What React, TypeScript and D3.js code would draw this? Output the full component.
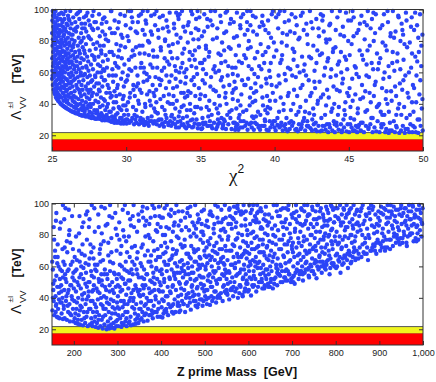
import React, { useEffect, useRef } from "react";
import * as d3 from "d3";

// axis ticks
const chiTicks = [25, 30, 35, 40, 45, 50];
const massTicks = [200, 300, 400, 500, 600, 700, 800, 900, 1000];
const lambdaTicks = [20, 40, 60, 80, 100];

// excluded bands (TeV)
const yellowBand = [17.3, 21.7];
const redBand = [10, 17.3];

// top panel: chi^2 vs Lambda (TeV)
const chiCore = [
  [25.01,56],[25.03,61],[25.02,69],[25.04,77],[25.01,85],[25.03,93],[25.05,99],[25.06,52],[25.07,64],[25.08,73],[25.06,81],[25.09,89],
  [25.07,96],[25.11,49],[25.12,57],[25.1,66],[25.13,70],[25.11,79],[25.14,87],[25.12,92],[25.16,47],[25.17,53],[25.15,60],[25.18,67],
  [25.16,75],[25.19,83],[25.17,97],[25.21,46],[25.22,50],[25.2,58],[25.24,63],[25.23,71],[25.21,78],[25.25,86],[25.22,91],[25.24,99],
  [25.27,44],[25.28,48],[25.3,55],[25.26,61],[25.29,68],[25.31,74],[25.27,82],[25.3,88],[25.32,95],[25.34,43],[25.36,47],[25.33,52],
  [25.37,59],[25.35,65],[25.38,72],[25.34,80],[25.39,85],[25.36,93],[25.41,42],[25.43,46],[25.4,50],[25.44,56],[25.42,63],[25.45,69],
  [25.41,76],[25.46,83],[25.43,90],[25.47,97],[25.48,44],[25.49,60],[25.48,79],
  [25.51,41],[25.53,45],[25.52,53],[25.54,58],[25.5,66],[25.55,71],[25.52,87],[25.56,94],[25.58,40],[25.57,49],[25.6,55],[25.59,62],
  [25.61,68],[25.58,76],[25.62,81],[25.6,90],[25.63,98],[25.65,39.5],[25.64,44],[25.67,51],[25.66,59],[25.68,64],[25.65,73],[25.69,79],
  [25.67,86],[25.7,92],[25.72,39],[25.71,47],[25.74,54],[25.73,61],[25.75,67],[25.72,74],[25.76,83],[25.74,89],[25.77,97],[25.79,38.5],
  [25.78,42],[25.81,50],[25.8,57],[25.82,63],[25.79,70],[25.83,77],[25.81,84],[25.84,94],[25.86,38],[25.85,45],[25.88,52],[25.87,60],
  [25.89,66],[25.86,73],[25.9,80],[25.88,88],[25.91,99],[25.93,37.5],[25.92,43],[25.95,48],[25.94,56],[25.96,64],[25.93,71],[25.97,78],
  [25.95,86],[25.98,91],[25.99,41],[25.99,68],
];

const chiShoulder = [
  [26.01,37],[26.03,42],[26.02,49],[26.05,55],[26.04,62],[26.06,69],[26.03,75],[26.07,82],[26.05,90],[26.08,96],[26.1,36.5],[26.12,40],
  [26.11,46],[26.14,53],[26.13,59],[26.15,66],[26.12,72],[26.16,79],[26.14,85],[26.17,93],[26.19,36],[26.21,44],[26.2,50],[26.23,57],
  [26.22,63],[26.24,70],[26.21,77],[26.25,88],[26.23,99],[26.28,35.5],[26.3,39],[26.29,47],[26.32,54],[26.31,60],[26.33,67],[26.3,74],
  [26.34,81],[26.32,91],[26.37,35],[26.39,42],[26.38,51],[26.41,58],[26.4,65],[26.42,71],[26.39,84],[26.43,95],[26.46,35],[26.48,38],
  [26.47,45],[26.49,62],[26.46,78],[26.48,87],
  [26.51,34.5],[26.53,41],[26.52,48],[26.55,56],[26.54,64],[26.56,73],[26.53,80],[26.57,92],[26.6,34],[26.62,37],[26.61,44],[26.64,52],
  [26.63,60],[26.65,67],[26.62,86],[26.66,97],[26.69,34],[26.71,39],[26.7,50],[26.73,57],[26.72,70],[26.74,77],[26.71,89],[26.78,33.5],
  [26.8,36],[26.79,43],[26.82,54],[26.81,62],[26.83,74],[26.8,82],[26.84,94],[26.87,33],[26.89,40],[26.88,47],[26.91,58],[26.9,66],
  [26.92,79],[26.89,99],[26.95,33],[26.97,37],[26.96,45],[26.99,52],[26.98,69],[26.96,85],[26.99,91],
  [27.02,32.5],[27.04,36],[27.03,42],[27.06,49],[27.05,63],[27.07,76],[27.04,88],[27.1,32.5],[27.12,39],[27.11,55],[27.14,68],[27.13,82],
  [27.15,95],[27.18,33],[27.2,35],[27.19,46],[27.22,59],[27.21,72],[27.23,91],[27.26,32],[27.28,41],[27.27,51],[27.3,64],[27.29,78],
  [27.31,86],[27.34,32],[27.36,37],[27.35,44],[27.38,57],[27.37,70],[27.39,98],[27.42,33],[27.44,39],[27.43,53],[27.46,61],[27.45,83],
  [27.48,47],[27.47,93],
  [27.51,31.5],[27.53,35],[27.52,43],[27.55,58],[27.54,74],[27.56,90],[27.59,31.5],[27.61,38],[27.6,49],[27.63,65],[27.62,81],[27.67,31],
  [27.69,34],[27.68,45],[27.71,55],[27.7,71],[27.72,96],[27.75,32],[27.77,40],[27.76,62],[27.79,78],[27.78,87],[27.83,31],[27.85,36],
  [27.84,51],[27.87,68],[27.86,92],[27.91,30.5],[27.93,42],[27.92,57],[27.95,75],[27.97,34],
];

const chiKnee = [
  [28.02,30.5],[28.05,35],[28.03,46],[28.07,60],[28.04,79],[28.09,88],[28.11,31],[28.14,33],[28.12,41],[28.16,53],[28.13,70],[28.17,97],
  [28.2,30.5],[28.23,38],[28.21,48],[28.25,64],[28.22,83],[28.29,32],[28.32,34],[28.3,44],[28.34,57],[28.31,74],[28.35,91],[28.38,29.5],
  [28.41,39],[28.39,51],[28.43,67],[28.4,86],[28.47,31],[28.5,32],[28.48,43],[28.52,61],[28.49,77],[28.53,95],[28.56,29.5],[28.59,36],
  [28.57,55],[28.61,71],[28.58,84],[28.65,30.5],[28.68,33],[28.66,47],[28.7,63],[28.67,92],[28.74,29.5],[28.77,40],[28.75,52],[28.79,80],
  [28.83,31],[28.86,35],[28.84,58],[28.88,73],[28.92,29],[28.95,44],[28.97,99],
  [29.02,28.5],[29.05,32],[29.03,45],[29.07,62],[29.04,85],[29.11,30],[29.14,37],[29.12,54],[29.16,71],[29.2,28],[29.23,31],[29.21,48],
  [29.25,66],[29.22,93],[29.29,29.5],[29.32,41],[29.3,58],[29.34,78],[29.38,28],[29.41,34],[29.39,50],[29.43,88],[29.47,29],[29.5,38],
  [29.48,63],[29.52,74],[29.56,28],[29.59,31],[29.57,46],[29.61,97],[29.65,27.5],[29.68,36],[29.66,56],[29.7,69],[29.74,29],[29.77,43],
  [29.75,82],[29.83,27.5],[29.86,33],[29.84,51],[29.88,65],[29.92,29.5],[29.95,39],[29.93,76],[29.97,90],
];

const chiMid = [
  [30.03,27.5],[30.08,30],[30.14,33],[30.22,28],[30.31,29],[30.41,31],[30.12,41],[30.27,47],[30.46,38],[30.05,55],[30.35,61],[30.18,68],
  [30.44,74],[30.09,83],[30.29,88],[30.38,95],[30.2,99],[30.48,52],
  [30.53,27],[30.61,30],[30.72,32],[30.86,27],[30.94,29.5],[30.67,36],[30.58,45],[30.81,42],[30.76,58],[30.97,63],[30.55,71],[30.89,77],
  [30.64,86],[30.79,92],[30.99,97],[30.7,51],[30.92,49],
  [31.04,28],[31.13,30],[31.21,26.5],[31.34,28.5],[31.45,31],[31.09,35],[31.27,40],[31.41,46],[31.17,54],[31.38,59],[31.02,66],[31.24,72],
  [31.47,80],[31.11,87],[31.31,93],[31.44,99],[31.19,63],
  [31.52,26],[31.6,29],[31.71,32],[31.83,27.5],[31.92,29],[31.66,39],[31.88,37],[31.57,48],[31.78,52],[31.97,57],[31.63,65],[31.85,70],
  [31.55,79],[31.74,84],[31.95,90],[31.68,96],[31.9,45],
  [32.06,27],[32.15,29.5],[32.24,26],[32.37,30],[32.46,27.5],[32.11,34],[32.3,43],[32.42,38],[32.02,49],[32.21,56],[32.4,61],[32.09,70],
  [32.33,76],[32.18,82],[32.47,88],[32.26,95],[32.04,99],
  [32.54,25.5],[32.63,28.5],[32.72,31],[32.84,26.5],[32.96,29],[32.59,36],[32.8,41],[32.68,50],[32.91,54],[32.56,63],[32.77,67],[32.98,73],
  [32.62,81],[32.86,86],[32.71,93],[32.93,98],[32.88,46],
  [33.03,26],[33.12,28],[33.25,30.5],[33.36,25],[33.47,28.5],[33.08,33],[33.31,37],[33.19,45],[33.42,51],[33.05,58],[33.28,64],[33.45,69],
  [33.14,78],[33.39,84],[33.22,91],[33.49,96],[33.33,56],
  [33.55,25],[33.64,29],[33.73,26.5],[33.82,31],[33.94,25.5],[33.6,35],[33.87,39],[33.7,47],[33.98,53],[33.58,60],[33.79,66],[33.91,75],
  [33.66,82],[33.85,89],[33.53,94],[33.76,99],[33.96,44],
  [34.04,24.5],[34.13,28],[34.22,26],[34.35,29.5],[34.44,25],[34.09,32],[34.3,40],[34.18,48],[34.4,55],[34.06,62],[34.26,68],[34.47,71],
  [34.15,79],[34.37,85],[34.21,92],[34.45,97],[34.33,36],
  [34.53,25.5],[34.61,27.5],[34.74,30],[34.83,24.5],[34.95,27],[34.58,34],[34.79,38],[34.66,45],[34.9,50],[34.55,57],[34.72,63],[34.98,66],
  [34.63,74],[34.87,81],[34.69,88],[34.93,95],[34.81,99],
];

const chiFarA = [
  [35.02,46],[35.06,24],[35.1,83],[35.14,31],[35.18,62],[35.22,27],[35.26,97],[35.3,53],[35.34,28],[35.38,75],[35.42,38],[35.46,26],
  [35.49,89],[35.28,68],[35.12,24.5],
  [35.52,26],[35.56,70],[35.6,42],[35.64,29],[35.68,93],[35.72,57],[35.76,33],[35.8,24.5],[35.84,81],[35.88,49],[35.92,28],[35.96,64],
  [35.99,99],[35.7,26],[35.58,36],
  [36.02,60],[36.06,24],[36.1,37],[36.14,88],[36.18,27],[36.22,72],[36.26,45],[36.3,28],[36.34,96],[36.38,55],[36.42,31],[36.46,79],
  [36.49,24.5],[36.2,34],[36.4,66],
  [36.52,26],[36.56,51],[36.6,85],[36.64,29],[36.68,67],[36.72,24],[36.76,40],[36.8,99],[36.84,58],[36.88,27],[36.92,76],[36.96,35],
  [36.99,91],[36.7,47],[36.58,30],
  [37.02,31],[37.06,94],[37.1,24],[37.14,63],[37.18,43],[37.22,28],[37.26,82],[37.3,54],[37.34,23.5],[37.38,71],[37.42,37],[37.46,98],
  [37.49,27],[37.24,49],[37.4,25.5],
  [37.52,58],[37.56,23.5],[37.6,77],[37.64,33],[37.68,90],[37.72,29],[37.76,46],[37.8,66],[37.84,25],[37.88,97],[37.92,29],[37.96,52],
  [37.99,84],[37.7,39],[37.58,31],
  [38.02,26],[38.06,69],[38.1,36],[38.14,92],[38.18,23.5],[38.22,56],[38.26,80],[38.3,27],[38.34,44],[38.38,99],[38.42,28],[38.46,62],
  [38.49,32],[38.2,75],[38.4,50],
  [38.52,41],[38.56,86],[38.6,23.5],[38.64,59],[38.68,28],[38.72,95],[38.76,48],[38.8,27],[38.84,73],[38.88,35],[38.92,25],[38.96,64],
  [38.99,89],[38.7,53],[38.58,31],
  [39.02,23.5],[39.06,78],[39.1,51],[39.14,26],[39.18,96],[39.22,39],[39.26,26],[39.3,66],[39.34,30],[39.38,87],[39.42,56],[39.46,23.5],
  [39.49,45],[39.2,71],[39.36,29],
  [39.52,34],[39.56,93],[39.6,23],[39.64,61],[39.68,42],[39.72,25],[39.76,82],[39.8,52],[39.84,27],[39.88,99],[39.92,29],[39.96,70],
  [39.99,25],[39.7,37],[39.58,76],
];

const chiFarB = [
  [40.02,29],[40.07,23],[40.13,51],[40.19,26.5],[40.24,88],[40.3,35],[40.33,25],[40.38,66],[40.41,44],[40.45,28],[40.48,79],[40.1,95],
  [40.27,58],[40.36,99],
  [40.51,71],[40.55,23],[40.6,40],[40.63,26],[40.68,92],[40.72,27],[40.75,55],[40.8,31],[40.84,84],[40.87,22.5],[40.9,63],[40.95,47],
  [40.99,28],[40.66,99],
  [41.02,24],[41.06,62],[41.1,36],[41.15,97],[41.18,26],[41.22,75],[41.26,28],[41.31,49],[41.35,85],[41.39,23.5],[41.43,57],[41.46,33],
  [41.49,90],[41.28,68],
  [41.52,45],[41.56,22.5],[41.61,81],[41.64,27],[41.69,60],[41.73,38],[41.77,96],[41.81,25],[41.85,70],[41.88,52],[41.92,29],[41.96,87],
  [41.99,31],[41.75,24],
  [42.02,65],[42.06,23],[42.11,42],[42.14,91],[42.18,26],[42.23,78],[42.27,25.5],[42.3,55],[42.34,34],[42.38,99],[42.42,24.5],[42.46,69],
  [42.49,47],[42.2,29],
  [42.52,23],[42.57,88],[42.6,37],[42.64,27],[42.69,61],[42.73,50],[42.77,28],[42.81,94],[42.85,22.5],[42.88,74],[42.92,42],[42.96,26],
  [42.99,83],[42.66,33],
  [43.03,54],[43.07,22.5],[43.11,97],[43.15,31],[43.19,72],[43.24,26],[43.27,46],[43.31,86],[43.36,26],[43.4,63],[43.44,23.5],[43.47,39],
  [43.49,79],[43.22,93],
  [43.53,27],[43.56,67],[43.61,22],[43.65,44],[43.69,90],[43.73,25],[43.77,57],[43.82,35],[43.86,99],[43.89,23],[43.93,73],[43.97,51],
  [43.99,29],[43.71,81],
  [44.02,40],[44.06,22],[44.1,76],[44.14,58],[44.19,26],[44.23,95],[44.27,33],[44.31,23.5],[44.35,67],[44.39,48],[44.43,84],[44.47,27],
  [44.49,60],[44.17,28],
  [44.52,22],[44.56,53],[44.6,89],[44.64,30],[44.68,25],[44.73,70],[44.77,41],[44.81,98],[44.85,22.5],[44.89,62],[44.92,27],[44.96,80],
  [44.99,45],[44.7,36],
];

const chiFarC = [
  [45.02,22],[45.06,71],[45.11,38],[45.15,93],[45.19,25],[45.23,56],[45.28,23],[45.32,83],[45.36,30],[45.4,64],[45.44,46],[45.48,26],
  [45.25,99],[45.09,27],
  [45.52,59],[45.56,22],[45.6,34],[45.65,87],[45.69,26.5],[45.73,74],[45.77,43],[45.81,23],[45.85,96],[45.89,52],[45.93,28],[45.97,68],
  [45.62,25],
  [46.02,22],[46.07,81],[46.11,48],[46.15,26],[46.2,65],[46.24,36],[46.28,99],[46.32,24],[46.36,57],[46.41,77],[46.45,27],[46.48,41],
  [46.22,90],
  [46.52,31],[46.56,94],[46.6,22],[46.64,62],[46.69,45],[46.73,25],[46.77,85],[46.81,54],[46.85,22.5],[46.9,72],[46.94,29],[46.98,39],
  [46.66,98],
  [47.03,66],[47.07,22],[47.11,88],[47.15,35],[47.2,25],[47.24,50],[47.28,79],[47.33,27],[47.37,97],[47.41,60],[47.45,22],[47.49,43],
  [47.26,33],
  [47.52,24],[47.56,74],[47.6,40],[47.64,92],[47.69,21.5],[47.73,57],[47.77,28],[47.81,83],[47.85,48],[47.89,23],[47.93,66],[47.97,99],
  [47.7,35],
  [48.03,29],[48.07,61],[48.11,22],[48.15,86],[48.19,45],[48.23,25],[48.28,72],[48.32,37],[48.36,95],[48.4,21.5],[48.44,53],[48.48,80],
  [48.2,33],
  [48.52,23],[48.56,91],[48.6,49],[48.64,26],[48.69,68],[48.73,38],[48.77,21.5],[48.81,58],[48.85,98],[48.89,31],[48.93,76],[48.97,24],
  [48.66,84],
  [49.03,44],[49.07,22],[49.11,79],[49.15,27],[49.2,63],[49.24,95],[49.28,22],[49.32,52],[49.36,35],[49.4,87],[49.44,25],[49.48,70],
  [49.26,41],
  [49.52,22],[49.56,58],[49.6,90],[49.64,30],[49.68,21.5],[49.72,73],[49.76,46],[49.8,97],[49.84,26],[49.88,64],[49.92,37],[49.96,84],
  [49.98,23],
];

// extra points filling the gaps of the top cloud
const chiFill = [
  [25.04,58],[25.09,70],[25.13,84],[25.18,95],[25.23,54],[25.27,66],[25.32,89],[25.36,76],[25.41,58],[25.46,73],[25.5,85],[25.55,50],
  [25.6,78],[25.64,56],[25.69,69],[25.73,93],[25.78,47],[25.82,87],[25.87,64],[25.92,81],[25.97,52],[26.02,72],[26.07,45],[26.13,94],
  [26.18,67],[26.24,53],[26.29,84],[26.35,44],[26.41,76],[26.46,55],[26.52,69],[26.58,88],[26.64,40],[26.7,64],[26.76,98],[26.82,49],
  [26.88,72],[26.94,60],[27.0,80],[27.06,38],
  [27.1,58],[27.17,74],[27.24,37],[27.3,96],[27.37,49],[27.44,67],[27.5,82],[27.57,40],[27.63,54],[27.7,88],[27.76,47],[27.83,70],
  [27.9,58],[27.96,92],[28.03,36],[28.1,65],[28.16,49],[28.23,77],[28.3,60],[28.36,33],[28.43,94],[28.5,55],[28.56,42],[28.63,81],
  [28.7,38],[28.76,68],[28.83,50],[28.9,88],[28.96,35],[29.03,73],[29.1,58],[29.16,41],[29.23,85],[29.3,33],[29.36,64],[29.43,52],
  [29.5,92],[29.56,37],[29.63,77],[29.7,31],[29.76,60],[29.83,45],[29.9,96],[29.96,54],[27.33,63],[27.66,31.5],[28.0,53],[28.33,72],
  [28.66,31],[29.0,99],[29.33,45],[29.66,84],[29.99,30],[27.2,88],[27.8,99],[28.45,62],[28.9,47],[29.45,70],[29.8,39],[29.25,29.5],
  [30.04,36],[30.11,58],[30.17,80],[30.24,44],[30.3,29],[30.36,70],[30.43,92],[30.49,49],[30.56,33],[30.62,63],[30.68,28],[30.74,85],
  [30.8,53],[30.86,40],[30.91,72],[30.97,31],[30.33,99],[30.66,76],[30.21,62],[30.85,96],
  [31.03,47],[31.1,77],[31.16,29],[31.22,60],[31.29,38],[31.35,91],[31.41,55],[31.47,27],[31.53,71],[31.59,42],[31.66,86],[31.72,29],
  [31.78,63],[31.84,47],[31.9,97],[31.96,35],[31.25,84],[31.56,57],[31.12,99],[31.81,74],
  [32.03,41],[32.09,63],[32.15,87],[32.22,30],[32.28,52],[32.34,74],[32.4,27],[32.47,96],[32.53,45],[32.59,69],[32.65,33],[32.71,58],
  [32.77,89],[32.84,28],[32.9,65],[32.96,40],[32.37,55],[32.62,80],[32.12,34],[32.87,77],
  [33.04,32],[33.1,69],[33.16,50],[33.23,88],[33.29,27],[33.35,61],[33.41,42],[33.48,79],[33.54,32],[33.6,97],[33.66,54],[33.73,38],
  [33.79,72],[33.85,27],[33.91,60],[33.97,86],[33.37,98],[33.69,63],[33.15,40],[33.88,47],
  [34.03,57],[34.09,36],[34.15,90],[34.22,26],[34.28,73],[34.34,47],[34.4,64],[34.47,30],[34.53,81],[34.59,52],[34.65,38],[34.71,94],
  [34.78,59],[34.84,27],[34.9,76],[34.96,43],[34.37,99],[34.62,68],[34.12,45],[34.87,87],
  [35.04,37],[35.11,66],[35.18,28],[35.25,86],[35.32,45],[35.39,59],[35.46,94],[35.53,32],[35.6,73],[35.67,51],[35.74,26],[35.81,90],
  [35.88,62],[35.95,40],[35.37,77],[35.7,99],[35.15,55],
  [36.04,48],[36.11,82],[36.18,30],[36.25,61],[36.32,39],[36.39,92],[36.46,57],[36.53,27],[36.6,74],[36.67,44],[36.74,86],[36.81,33],
  [36.88,64],[36.95,52],[36.37,71],[36.7,98],[36.14,25.5],
  [37.04,75],[37.11,36],[37.18,59],[37.25,92],[37.32,28],[37.39,50],[37.46,83],[37.53,42],[37.6,67],[37.67,25],[37.74,95],[37.81,55],
  [37.88,35],[37.95,71],[37.37,63],[37.7,88],[37.15,47],
  [38.04,52],[38.11,28],[38.18,87],[38.25,64],[38.32,39],[38.39,76],[38.46,25],[38.53,96],[38.6,47],[38.67,69],[38.74,32],[38.81,84],
  [38.88,57],[38.95,26],[38.37,90],[38.7,42],[38.15,99],
  [39.04,33],[39.11,62],[39.18,44],[39.25,90],[39.32,26],[39.39,73],[39.46,53],[39.53,38],[39.6,85],[39.67,29],[39.74,66],[39.81,97],
  [39.88,47],[39.95,79],[39.37,36],[39.7,57],[39.15,92],
  [40.05,42],[40.12,74],[40.19,31],[40.26,97],[40.33,53],[40.4,26],[40.47,68],[40.54,85],[40.61,36],[40.68,59],[40.75,24],[40.82,77],
  [40.89,45],[40.96,93],
  [41.05,86],[41.12,29],[41.19,58],[41.26,40],[41.33,73],[41.4,95],[41.47,24],[41.54,64],[41.61,35],[41.68,82],[41.75,50],[41.82,27],
  [41.89,98],[41.96,61],
  [42.05,35],[42.12,58],[42.19,84],[42.26,26],[42.33,70],[42.4,45],[42.47,92],[42.54,30],[42.61,77],[42.68,54],[42.75,23.5],[42.82,66],
  [42.89,40],[42.96,88],
  [43.05,71],[43.12,44],[43.19,23],[43.26,96],[43.33,58],[43.4,33],[43.47,81],[43.54,49],[43.61,69],[43.68,27],[43.75,91],[43.82,62],
  [43.89,37],[43.96,75],
  [44.05,27],[44.12,87],[44.19,49],[44.26,65],[44.33,38],[44.4,99],[44.47,73],[44.54,23],[44.61,56],[44.68,83],[44.75,33],[44.82,68],
  [44.89,47],[44.96,93],
  [45.05,50],[45.12,31],[45.19,78],[45.26,42],[45.33,95],[45.4,23],[45.47,63],[45.54,85],[45.61,37],[45.68,57],[45.75,91],[45.82,28],
  [45.89,71],[45.96,44],
  [46.05,92],[46.12,35],[46.19,58],[46.26,74],[46.33,25],[46.4,47],[46.47,88],[46.54,66],[46.61,31],[46.68,80],[46.75,52],[46.82,97],
  [46.89,38],[46.96,62],
  [47.05,40],[47.12,69],[47.19,27],[47.26,90],[47.33,56],[47.4,33],[47.47,77],[47.54,48],[47.61,99],[47.68,64],[47.75,23],[47.82,85],
  [47.89,42],[47.96,73],
  [48.05,82],[48.12,51],[48.19,26],[48.26,67],[48.33,96],[48.4,40],[48.47,62],[48.54,33],[48.61,87],[48.68,55],[48.75,78],[48.82,24],
  [48.89,93],[48.96,47],
  [49.05,60],[49.12,33],[49.19,89],[49.26,72],[49.33,26],[49.4,50],[49.47,98],[49.54,41],[49.61,67],[49.68,82],[49.75,30],[49.82,55],
  [49.89,77],[49.96,43],
];

// bottom panel: Z' mass (GeV) vs Lambda (TeV)
const massLow = [
  [151,32],[153,45],[152,58],[154,38],[156,51],[155,29],[157,66],[158,41],[159,35],[160,54],[161,28],[162,47],[163,74],[164,33],[165,60],
  [166,43],[167,27],[168,52],[169,37],[170,88],[171,48],[172,30],[173,57],[174,40],[175,26.5],[176,63],[177,35],[178,45],[179,27],[180,55],
  [181,97],[182,38],[183,50],[184,26],[185,69],[186,43],[187,31],[188,58],[189,80],[190,36],[191,25],[192,48],[193,61],[194,29],[195,41],
  [196,92],[197,53],[198,33],[199,25],[200,46],
  [155,77],[168,84],[184,76],[198,71],[160,94],[175,99],[190,83],[179,72],
  [201,38],[202,27],[203,57],[204,24],[205,44],[206,33],[207,64],[208,50],[209,23.5],[210,40],[211,29],[212,70],[213,53],[214,23],[215,35],
  [216,46],[217,60],[218,26],[219,85],[220,39],[221,22.5],[222,52],[223,31],[224,43],[225,67],[226,24],[227,36],[228,56],[229,28],[230,47],
  [231,95],[232,22],[233,41],[234,61],[235,33],[236,50],[237,23],[238,74],[239,38],[240,27],[241,54],[242,44],[243,22],[244,31],[245,65],
  [246,48],[247,25],[248,36],[249,58],[250,21.5],
  [205,79],[213,92],[222,88],[230,77],[241,99],[248,82],[218,68],[236,90],
  [251,34],[252,46],[253,24],[254,61],[255,39],[256,21],[257,52],[258,29],[259,43],[260,71],[261,22],[262,36],[263,55],[264,26],[265,48],
  [266,20.5],[267,64],[268,33],[269,41],[270,23],[271,58],[272,29],[273,86],[274,45],[275,20],[276,37],[277,52],[278,25],[279,67],[280,31],
  [281,20.5],[282,44],[283,57],[284,27],[285,39],[286,78],[287,21],[288,50],[289,34],[290,62],[291,24],[292,43],[293,20.5],[294,55],[295,30],
  [296,47],[297,22],[298,70],[299,37],[300,26],
  [256,93],[264,81],[271,97],[279,75],[288,91],[296,84],[262,74],[283,99],
];

const massRise = [
  [301,41],[302,22],[303,55],[304,33],[305,47],[306,27],[307,68],[308,38],[309,21.5],[310,60],[311,45],[312,29],[313,52],[314,23],[315,79],
  [316,36],[317,49],[318,25],[319,63],[320,42],[321,22],[322,57],[323,31],[324,94],[325,46],[326,24],[327,38],[328,66],[329,51],[330,28],
  [331,22.5],[332,43],[333,72],[334,34],[335,55],[336,23],[337,40],[338,85],[339,61],[340,30],[341,48],[342,23.5],[343,36],[344,58],[345,27],
  [346,69],[347,44],[348,24],[349,53],[350,33],
  [304,88],[312,96],[320,76],[329,90],[337,99],[345,82],[348,93],[309,73],
  [351,45],[352,26],[353,62],[354,37],[355,27],[356,53],[357,31],[358,74],[359,42],[360,25],[361,58],[362,35],[363,67],[364,48],[365,30],
  [366,89],[367,40],[368,55],[369,25.5],[370,33],[371,63],[372,46],[373,29],[374,78],[375,51],[376,29],[377,38],[378,60],[379,44],[380,99],
  [381,27],[382,56],[383,35],[384,70],[385,49],[386,31],[387,41],[388,83],[389,59],[390,31],[391,52],[392,28],[393,66],[394,45],[395,37],
  [396,92],[397,57],[398,28],[399,48],[400,73],
  [356,95],[363,86],[371,80],[384,97],[392,87],[358,98],[376,91],[399,85],
  [401,34],[402,55],[403,27.5],[404,44],[405,68],[406,38],[407,50],[408,32],[409,80],[410,61],[411,41],[412,31],[413,57],[414,72],[415,47],
  [416,29],[417,36],[418,93],[419,64],[420,52],[421,34],[422,43],[423,76],[424,58],[425,35],[426,67],[427,48],[428,30],[429,86],[430,54],
  [431,39],[432,62],[433,31],[434,45],[435,99],[436,70],[437,56],[438,35],[439,41],[440,78],[441,50],[442,35],[443,63],[444,32],[445,89],
  [446,46],[447,59],[448,38],[449,72],[450,53],
  [404,91],[412,85],[423,96],[431,88],[440,95],[447,83],[408,97],[427,82],
  [451,36],[452,61],[453,45],[454,77],[455,31],[456,55],[457,40],[458,68],[459,50],[460,94],[461,35],[462,59],[463,43],[464,83],[465,66],
  [466,37],[467,52],[468,32.5],[469,73],[470,47],[471,60],[472,88],[473,41],[474,56],[475,38],[476,69],[477,51],[478,99],[479,38],[480,63],
  [481,79],[482,46],[483,34],[484,58],[485,71],[486,42],[487,90],[488,54],[489,39],[490,65],[491,49],[492,82],[493,39],[494,61],[495,35],
  [496,75],[497,53],[498,96],[499,44],[500,67],
  [455,91],[461,97],[476,86],[484,93],[493,87],[497,80],[467,98],[480,84],
  [501,41],[502,58],[503,45],[504,72],[505,36],[506,62],[507,51],[508,85],[509,40],[510,67],[511,55],[512,35.5],[513,78],[514,47],[515,93],
  [516,60],[517,38],[518,70],[519,53],[520,40],[521,81],[522,44],[523,64],[524,99],[525,57],[526,37],[527,75],[528,49],[529,68],[530,41],
  [531,88],[532,59],[533,42],[534,71],[535,52],[536,63],[537,43],[538,96],[539,77],[540,55],[541,38],[542,66],[543,84],[544,48],[545,61],
  [546,44],[547,73],[548,91],[549,56],[550,45],
  [505,89],[513,95],[522,87],[530,98],[537,83],[546,99],[518,92],[542,90],
  [551,43],[552,64],[553,49],[554,79],[555,57],[556,39],[557,70],[558,92],[559,45],[560,61],[561,46],[562,84],[563,53],[564,74],[565,41],
  [566,66],[567,98],[568,50],[569,59],[570,44],[571,77],[572,88],[573,46],[574,68],[575,55],[576,40],[577,81],[578,63],[579,95],[580,48],
  [581,72],[582,47],[583,58],[584,86],[585,67],[586,42],[587,52],[588,76],[589,99],[590,61],[591,44],[592,70],[593,90],[594,55],[595,49],
  [596,65],[597,83],[598,49],[599,73],[600,60],
  [556,96],[563,91],[575,97],[583,93],[594,95],[560,87],[571,94],[588,94],
];

const massHigh = [
  [601,45],[602,68],[603,53],[604,87],[605,61],[606,41.5],[607,75],[608,96],[609,48],[610,64],[611,82],[612,57],[613,48],[614,71],[615,92],
  [616,52],[617,66],[618,44],[619,79],[620,99],[621,59],[622,47],[623,73],[624,88],[625,63],[626,50],[627,55],[628,84],[629,69],[630,95],
  [631,50],[632,46],[633,77],[634,61],[635,90],[636,46],[637,67],[638,81],[639,54],[640,98],[641,52],[642,72],[643,58],[644,86],[645,49],
  [646,64],[647,93],[648,76],[649,47],[650,60],
  [605,94],[618,90],[628,97],[640,89],[611,99],[623,95],
  [651,50],[652,70],[653,57],[654,91],[655,63],[656,46],[657,80],[658,99],[659,52],[660,68],[661,86],[662,53],[663,74],[664,59],[665,95],
  [666,48],[667,65],[668,83],[669,55],[670,55],[671,77],[672,92],[673,61],[674,50],[675,71],[676,88],[677,57],[678,50],[679,97],[680,67],
  [681,80],[682,53],[683,74],[684,57],[685,62],[686,90],[687,58],[688,84],[689,51],[690,69],[691,96],[692,76],[693,55],[694,55],[695,87],
  [696,64],[697,78],[698,52],[699,93],[700,71],
  [701,53],[702,75],[703,60],[704,94],[705,66],[706,49],[707,84],[708,56],[709,99],[710,72],[711,57],[712,88],[713,62],[714,78],[715,52],
  [716,92],[717,68],[718,57],[719,82],[720,56],[721,97],[722,73],[723,60],[724,86],[725,51],[726,66],[727,79],[728,95],[729,56],[730,70],
  [731,58],[732,89],[733,63],[734,77],[735,99],[736,58],[737,84],[738,54],[739,69],[740,93],[741,74],[742,61],[743,87],[744,60],[745,80],
  [746,65],[747,96],[748,57],[749,72],[750,90],
  [751,55],[752,78],[753,64],[754,95],[755,70],[756,52.5],[757,87],[758,60],[759,99],[760,75],[761,59],[762,91],[763,67],[764,82],[765,63],
  [766,97],[767,72],[768,56],[769,85],[770,63],[771,93],[772,77],[773,61],[774,89],[775,68],[776,81],[777,58],[778,98],[779,61],[780,74],
  [781,86],[782,64],[783,94],[784,70],[785,80],[786,55],[787,90],[788,65],[789,99],[790,76],[791,62],[792,84],[793,71],[794,96],[795,62],
  [796,88],[797,60],[798,79],[799,92],[800,67],
  [801,59],[802,82],[803,68],[804,97],[805,74],[806,64],[807,90],[808,63],[809,79],[810,99],[811,56],[812,86],[813,71],[814,93],[815,61],
  [816,77],[817,88],[818,62],[819,96],[820,67],[821,83],[822,66],[823,91],[824,73],[825,99],[826,64],[827,85],[828,59],[829,78],[830,94],
  [831,69],[832,88],[833,67],[834,80],[835,97],[836,63],[837,75],[838,90],[839,66],[840,84],[841,99],[842,72],[843,70],[844,93],[845,79],
  [846,65],[847,87],[848,70],[849,96],[850,82],
];

const massEdge = [
  [852,65],[854,86],[855,72],[857,95],[859,66],[861,80],[862,99],[864,69],[866,89],[867,75],[869,93],[871,68],[872,84],[874,64],[876,97],
  [877,78],[879,90],[881,70],[883,86],[884,72],[886,98],[888,81],[889,73],[891,93],[893,68],[894,87],[896,77],[898,95],[899,75],
  [901,89],[903,74],[904,98],[906,72],[908,84],[909,93],[911,79],[913,70],[914,96],[916,87],[918,72],[919,99],[921,82],[923,77],[924,91],
  [926,77],[928,95],[929,86],[931,73],[933,98],[934,81],[936,92],[938,75],[940,88],[941,78],[943,96],[945,83],[946,93],[948,78],[950,99],
  [951,87],[953,75],[955,94],[957,80],[958,97],[960,89],[962,75],[964,92],[966,84],[968,99],[970,80],[972,90],[973,95],[975,81],[977,98],
  [979,87],[981,93],[983,78],[985,96],[987,86],[989,91],[991,99],[993,83],[995,94],[997,88],[999,97],[963,73],[985,76],
];

// extra points filling the gaps of the bottom cloud
const massFill = [
  [158.5,31],[166,39],[153,49],[171.5,44],[162,62],[177,33],[185.5,57],[191,30],[196.5,39],[174,71],[181,52],[164,27.5],[169,58],[157,70],
  [188,45],[199,56],[203.5,30],[211,48],[207,37],[216.5,55],[224,27],[229.5,39],[233.5,50],[238,33],[244.5,45],[248.5,61],[213.5,63],
  [219,42],[226.5,49],[236,65],[241.5,24],[246,53],[202,66],[209.5,26],[218,34],[231,31],[239.5,57],[249,28],[152,40],[160,36],[167.5,47],
  [175,53],[183,41],[194,48],[201,51],[214,32],[222,59],[234,44],[243,38],[186,35],[172,37],[179,61],[197,63],[206,58],[227,62],[245,72],
  [154,85],[163,66],[178,90],[192,75],[212,81],[228,93],[240,69],[150.5,63],[159,89],[188.5,96],[220,74],[234.5,85],[247,97],
  [253,31],[258,50],[262.5,40],[267,28],[271.5,47],[276,55],[281,36],[285.5,23],[289,45],[294,33],[298.5,52],[302,29],[307,44],[311.5,34],
  [316,58],[320.5,27],[325,51],[329.5,40],[334,63],[338.5,33],[343,46],[347.5,29],[252,57],[256.5,26],[261,63],[266,35],[270,55],[274.5,40],
  [279,22],[283,63],[287.5,30],[292,56],[296.5,25],[301,48],[305.5,61],[310,24],[314.5,38],[318.5,49],[323,36],[327.5,25],[332,58],
  [336.5,45],[341,26],[345.5,55],[349.5,42],[255,44],[264,51],[273,33],[282,48],[291,38],[300.5,34],[309,53],[318,31],[327,56],[336,38],
  [344.5,65],[259,68],[268.5,76],[277,87],[286,69],[295,94],[304.5,77],[313,83],[322,69],[331,86],[340,73],[349,89],[263,98],[281.5,92],
  [299,80],[317,99],[335,92],[257,85],[326,79],
  [353,33],[357.5,48],[362,29],[366.5,55],[371,38],[375.5,63],[380,30],[384.5,45],[389,58],[393.5,33],[398,66],[402.5,39],[407,52],
  [411.5,33],[416,61],[420.5,44],[425,31],[429.5,56],[434,68],[438.5,37],[443,49],[447.5,64],[352,41],[356,60],[361,52],[365,36],
  [369.5,70],[374,43],[378.5,32],[383,53],[387.5,39],[392,71],[396.5,50],[401,58],[405.5,30],[410,69],[414.5,41],[419,53],[423.5,65],
  [428,36],[432.5,52],[437,60],[441.5,31],[446,42],[449.5,57],[355,72],[364,79],[373,87],[382,76],[391,82],[400.5,91],[409,75],[418,84],
  [427,71],[436,79],[445,74],[359,91],[368,97],[386,92],[395,98],[404,80],[413,99],[422,92],[431,94],[440,86],[449,95],[377,67],[388,64],
  [407,63],[426,47],[443,56],[360,46],[379,50],[397,44],
  [452,36],[456.5,49],[461,62],[465.5,40],[470,56],[474.5,71],[479,35],[483.5,47],[488,66],[492.5,53],[497,38],[501.5,60],[506,45],
  [510.5,74],[515,41],[519.5,57],[524,69],[528.5,40],[533,52],[537.5,65],[542,47],[546.5,58],[454,73],[458.5,42],[463,55],[467.5,79],
  [472,44],[476.5,63],[481,52],[485.5,36],[490,77],[494.5,46],[499,70],[503.5,39],[508,54],[512.5,64],[517,47],[521.5,73],[526,51],
  [530.5,62],[535,40],[539.5,71],[544,54],[548.5,43],[457,85],[466,92],[475,81],[484,88],[493,95],[502,86],[511,93],[520,84],[529,91],
  [538,88],[547,82],[462,68],[471,48],[480,70],[489,59],[498,48],[507,76],[516,66],[525,44],[534,79],[543,62],[549,70],[453,57],[468,65],
  [477,42],[486,61],[495,82],[504,66],[513,50],[522,56],
  [552,42],[556.5,56],[561,70],[565.5,47],[570,62],[574.5,78],[579,43],[583.5,66],[588,53],[592.5,46],[597,69],[601.5,57],[606,81],
  [610.5,47],[615,63],[619.5,72],[624,50],[628.5,59],[633,74],[637.5,48],[642,65],[646.5,55],[554,87],[558.5,50],[563,61],[567.5,73],
  [572,54],[576.5,66],[581,48],[585.5,80],[590,58],[594.5,75],[599,44],[603.5,63],[608,71],[612.5,54],[617,88],[621.5,62],[626,77],
  [630.5,52],[635,69],[639.5,58],[644,80],[648.5,67],[557,97],[566,90],[575,99],[584,95],[593,86],[602,99],[611,89],[620,94],[629,85],
  [638,93],[647,88],[553,77],[562,45],[571,85],[580,56],[589,68],[598,80],[607,52],[616,60],[625,69],[634,56],[643,73],[550,52],[569,59],
  [587,41],[596,51],[614,78],[632,84],[645,47],
  [652,52],[657,66],[661.5,79],[666,56],[670.5,71],[675,60],[679.5,85],[684,53],[688.5,74],[693,63],[697.5,50],[702,69],[706.5,82],
  [711,58],[715.5,75],[720,64],[724.5,55],[729,87],[733.5,68],[738,59],[742.5,80],[747,71],[751.5,62],[756,90],[760.5,58],[765,77],
  [769.5,69],[774,86],[778.5,63],[783,79],[787.5,59],[792,74],[796.5,88],[654,84],[659,49],[663.5,61],[668,92],[672.5,54],[677,77],
  [681.5,66],[686,97],[690.5,57],[695,81],[699.5,73],[704,54],[708.5,90],[713,67],[717.5,55],[722,96],[726.5,76],[731,62],[735.5,92],
  [740,70],[744.5,57],[749,85],[753.5,73],[758,99],[762.5,66],[767,60],[771.5,91],[776,72],[780.5,96],[785,67],[789.5,83],[794,61],
  [798.5,97],[655,75],[665,99],[674,96],[683,88],[692,99],[701,91],[710,95],[719,87],[728,99],[737,93],[746,98],[755,82],[764,95],
  [773,79],[782,89],[791,98],[799,76],[667,58],[685,51],[703,50],[721,57],[739,53],[757,63],[775,59],
  [803,60],[807.5,75],[812,88],[816.5,65],[821,79],[825.5,93],[830,70],[834.5,62],[839,86],[843.5,76],[848,95],[852.5,68],[857,83],
  [861.5,74],[866,68],[870.5,92],[875,80],[879.5,70],[884,96],[888.5,85],[893,75],[897.5,91],[902,70],[906.5,81],[911,97],[915.5,77],
  [920,88],[924.5,71],[929,93],[933.5,79],[938,96],[942.5,85],[947,74],[951.5,92],[956,82],[960.5,97],[965,79],[969.5,90],[974,86],
  [978.5,76],[983,92],[987.5,81],[992,96],[996.5,79],[805,91],[814,72],[823,85],[832,96],[841,69],[850,88],[859,97],[868,78],[877,94],
  [886,74],[895,82],[904,94],[913,72],[922,95],[931,84],[940,80],[949,97],[958,88],[967,95],[976,99],[985,85],[994,90],[809,66],[818,97],
  [827,68],[836,80],[845,64],[854,92],[863,87],[872,72],[881,99],[890,70],[899,86],[908,76],[917,91],[926,99],[935,89],[944,76],[953,78],
  [962,86],[971,81],[980,91],[989,77],[998,87],
];

const chiPoints = [...chiCore, ...chiShoulder, ...chiKnee, ...chiMid, ...chiFarA, ...chiFarB, ...chiFarC, ...chiFill];
const massPoints = [...massLow, ...massRise, ...massHigh, ...massEdge, ...massFill];

const LEFT = 52;
const RIGHT = 423;
const PLOT_H = 141.5;
const sans = "'Liberation Sans', Arial, sans-serif";

function drawPanel(svg, top, xDomain, xTicks, points) {
  const x = d3.scaleLinear().domain(xDomain).range([LEFT, RIGHT]);
  const y = d3.scaleLinear().domain([10, 100]).range([top + PLOT_H, top]);
  const g = svg.append("g");

  // limit bands
  g.append("rect")
    .attr("x", LEFT).attr("width", RIGHT - LEFT)
    .attr("y", y(redBand[1])).attr("height", y(redBand[0]) - y(redBand[1]))
    .attr("fill", "#ff0000");
  g.append("rect")
    .attr("x", LEFT).attr("width", RIGHT - LEFT)
    .attr("y", y(yellowBand[1])).attr("height", y(yellowBand[0]) - y(yellowBand[1]))
    .attr("fill", "#f0f51e");
  g.append("line")
    .attr("x1", LEFT).attr("x2", RIGHT)
    .attr("y1", y(yellowBand[0])).attr("y2", y(yellowBand[0]))
    .attr("stroke", "#d0501a").attr("stroke-width", 1);
  g.append("line")
    .attr("x1", LEFT).attr("x2", RIGHT)
    .attr("y1", y(yellowBand[1])).attr("y2", y(yellowBand[1]))
    .attr("stroke", "#555").attr("stroke-width", 1);

  g.append("g")
    .attr("fill", "#2b44f7")
    .selectAll("circle")
    .data(points)
    .enter().append("circle")
    .attr("cx", d => x(d[0]))
    .attr("cy", d => y(d[1]))
    .attr("r", 2.2);

  // frame + inward ticks on all sides
  g.append("rect")
    .attr("x", LEFT).attr("y", top)
    .attr("width", RIGHT - LEFT).attr("height", PLOT_H)
    .attr("fill", "none").attr("stroke", "#333").attr("stroke-width", 1);

  const styleAxis = sel => {
    sel.select(".domain").remove();
    sel.selectAll("line").attr("stroke", "#333");
    sel.selectAll("text")
      .attr("font-size", 9)
      .attr("font-family", sans)
      .attr("fill", "#222");
  };

  g.append("g")
    .attr("transform", `translate(${LEFT},0)`)
    .call(d3.axisLeft(y).tickValues(lambdaTicks).tickSize(-4).tickPadding(3))
    .call(styleAxis);
  g.append("g")
    .attr("transform", `translate(${RIGHT},0)`)
    .call(d3.axisRight(y).tickValues(lambdaTicks).tickSize(-4).tickFormat(() => ""))
    .call(styleAxis);
  g.append("g")
    .attr("transform", `translate(0,${top + PLOT_H})`)
    .call(d3.axisBottom(x).tickValues(xTicks).tickSize(-4).tickPadding(5))
    .call(styleAxis);
  g.append("g")
    .attr("transform", `translate(0,${top})`)
    .call(d3.axisTop(x).tickValues(xTicks).tickSize(-4).tickFormat(() => ""))
    .call(styleAxis);

  // y label: Lambda^{±I}_{VV} [TeV]
  const lab = (tx, ty, txt, size, weight = "normal") =>
    g.append("text")
      .attr("transform", `translate(${tx},${ty}) rotate(-90)`)
      .attr("font-family", sans)
      .attr("font-size", size)
      .attr("font-weight", weight)
      .attr("fill", "#111")
      .text(txt);
  lab(21, top + 110.5, "Λ", 14);
  lab(13, top + 99, "±I", 8);
  lab(25.5, top + 99.5, "VV", 9.5);
  lab(21, top + 74, "[TeV]", 12, "bold");
}

export default function App() {
  const ref = useRef(null);

  useEffect(() => {
    const svg = d3.select(ref.current);
    svg.selectAll("*").remove();

    drawPanel(svg, 9.5, [25, 50], chiTicks, chiPoints);
    drawPanel(svg, 203.5, [150, 1000], massTicks, massPoints);

    const chi = svg.append("text")
      .attr("x", 229).attr("y", 182)
      .attr("fill", "#111");
    chi.append("tspan")
      .attr("font-family", "'Liberation Serif', serif")
      .attr("font-size", 19)
      .text("χ");
    chi.append("tspan")
      .attr("font-family", sans)
      .attr("font-size", 12)
      .attr("dy", -9)
      .text("2");

    svg.append("text")
      .attr("x", 237).attr("y", 376)
      .attr("text-anchor", "middle")
      .attr("font-family", sans)
      .attr("font-size", 12.5)
      .attr("font-weight", "bold")
      .attr("fill", "#111")
      .style("white-space", "pre")
      .text("Z prime Mass  [GeV]");
  }, []);

  return (
    <svg ref={ref} width={436} height={382}
      style={{ position: "absolute", left: 0, top: 0, background: "#fff" }} />
  );
}
